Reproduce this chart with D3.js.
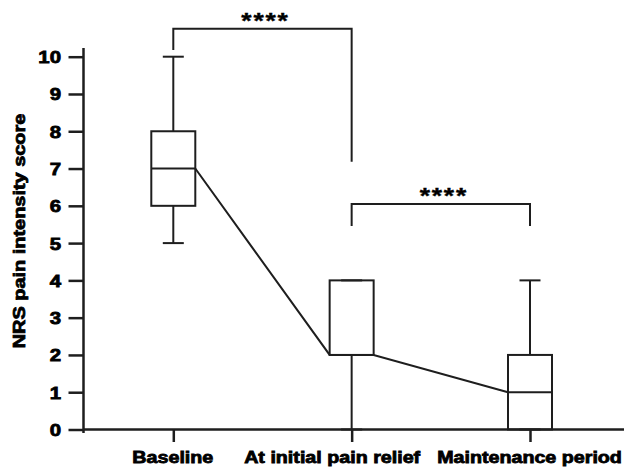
<!DOCTYPE html>
<html>
<head>
<meta charset="utf-8">
<script src="https://cdn.jsdelivr.net/npm/d3@7"></script>
<style>
  html, body { margin: 0; padding: 0; background: #fff; }
  svg { display: block; }
  text { font-family: "Liberation Sans", Arial, sans-serif; font-weight: bold; fill: #000; stroke: #000; stroke-width: 0.8px; }
</style>
</head>
<body>
<svg id="chart" width="624" height="468"></svg>
<script>
const categories = ["Baseline", "At initial pain relief", "Maintenance period"];
const whiskerLow = [5, 0, 0];
const q1 = [6, 2, 0];
const median = [7, 2, 1];
const q3 = [8, 4, 2];
const whiskerHigh = [10, 4, 4];
const yTicks = [0, 1, 2, 3, 4, 5, 6, 7, 8, 9, 10];
const yTitle = "NRS pain intensity score";
// significance brackets: indices of groups, label, bracket level and leg ends (score units)
const compFrom = [0, 1];
const compTo = [1, 2];
const compLabel = ["****", "****"];
const compLevel = [10.75, 6.05];
const compLeftEnd = [10.18, 5.46];
const compRightEnd = [7.18, 5.46];

const svg = d3.select("#chart");
const ink = "#1e1e1e";
const sx = 1.2; // horizontal stretch of the original bold font

const y = d3.scaleLinear().domain([0, 10]).range([429.5, 56.7]);
const x = d3.scalePoint().domain(categories).range([173.3, 530]);
const halfBox = 22, halfCap = 10.5;

// Y axis
const yAxis = svg.append("g").attr("transform", "translate(83.5,0)")
  .call(d3.axisLeft(y).tickValues(yTicks).tickFormat(d3.format("d")).tickSize(15).tickPadding(0));
yAxis.attr("font-family", null).attr("font-size", null);
yAxis.select(".domain").attr("d", "M0,433V48").attr("stroke", ink).attr("stroke-width", 2.5);
yAxis.selectAll(".tick line").attr("stroke", ink).attr("stroke-width", 2.5);
yAxis.selectAll(".tick text")
  .attr("x", -22.5 / sx).attr("dy", null).attr("y", 6)
  .attr("transform", `scale(${sx},1)`)
  .style("font-size", "17px").attr("fill", "#000");

// X axis
const xAxis = svg.append("g").attr("transform", "translate(0,429.5)")
  .call(d3.axisBottom(x).tickSize(12.5).tickSizeOuter(0).tickPadding(0));
xAxis.attr("font-family", null).attr("font-size", null);
xAxis.select(".domain").attr("d", "M83.5,0H624").attr("stroke", ink).attr("stroke-width", 2.5);
xAxis.selectAll(".tick line").attr("stroke", ink).attr("stroke-width", 2.5);
xAxis.selectAll(".tick text")
  .attr("dy", null).attr("y", 33.8)
  .attr("x", (d, i) => (i === 1 ? -20 : -1) / sx)
  .attr("transform", `scale(${sx},1)`)
  .style("font-size", "16.4px").attr("fill", "#000");

// Y title
svg.append("text")
  .attr("transform", `translate(25,231) rotate(-90) scale(${sx},1)`)
  .attr("text-anchor", "middle")
  .style("font-size", "16.6px")
  .text(yTitle);

// Boxes
const groups = svg.append("g").attr("fill", "none").attr("stroke", ink).attr("stroke-width", 2);
categories.forEach((c, i) => {
  const cx = x(c);
  const g = groups.append("g");
  g.append("line").attr("x1", cx).attr("x2", cx).attr("y1", y(q3[i])).attr("y2", y(whiskerHigh[i]));
  g.append("line").attr("x1", cx).attr("x2", cx).attr("y1", y(q1[i])).attr("y2", y(whiskerLow[i]));
  g.append("line").attr("x1", cx - halfCap).attr("x2", cx + halfCap).attr("y1", y(whiskerHigh[i])).attr("y2", y(whiskerHigh[i]));
  g.append("line").attr("x1", cx - halfCap).attr("x2", cx + halfCap).attr("y1", y(whiskerLow[i])).attr("y2", y(whiskerLow[i]));
  g.append("rect").attr("x", cx - halfBox).attr("width", 2 * halfBox)
    .attr("y", y(q3[i])).attr("height", y(q1[i]) - y(q3[i]));
  g.append("line").attr("x1", cx - halfBox).attr("x2", cx + halfBox).attr("y1", y(median[i])).attr("y2", y(median[i]));
});

// Median connecting line (box edge to box edge)
const medianPts = [];
categories.forEach((c, i) => {
  if (i > 0) medianPts.push([x(c) - halfBox, y(median[i])]);
  if (i < categories.length - 1) medianPts.push([x(c) + halfBox, y(median[i])]);
});
svg.append("path")
  .attr("d", d3.line()(medianPts))
  .attr("fill", "none").attr("stroke", ink).attr("stroke-width", 2);

// Significance brackets
compFrom.forEach((f, k) => {
  const x1 = x(categories[f]), x2 = x(categories[compTo[k]]);
  const pts = [[x1, y(compLeftEnd[k])], [x1, y(compLevel[k])], [x2, y(compLevel[k])], [x2, y(compRightEnd[k])]];
  svg.append("path").attr("d", d3.line()(pts))
    .attr("fill", "none").attr("stroke", ink).attr("stroke-width", 2);
  const mid = (x1 + x2) / 2 + 3;
  svg.append("text")
    .attr("transform", `translate(${mid},${y(compLevel[k]) - 1}) scale(${sx},1)`)
    .attr("text-anchor", "middle")
    .style("font-size", "22px")
    .style("letter-spacing", "1.5px")
    .style("stroke-width", "0.4px")
    .text(compLabel[k]);
});
</script>
</body>
</html>
